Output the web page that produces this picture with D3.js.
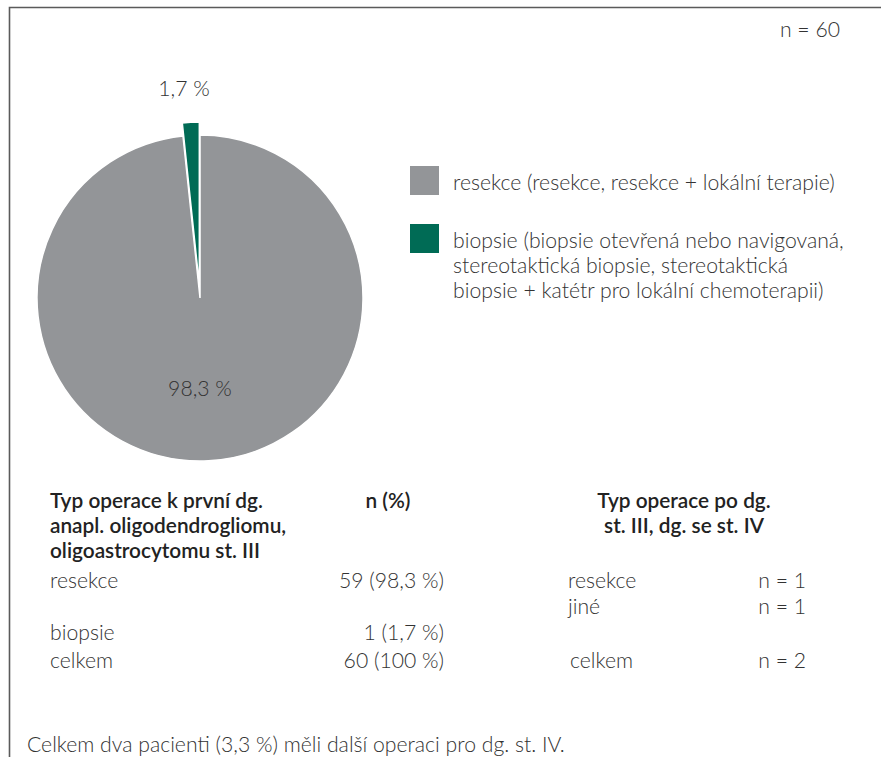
<!DOCTYPE html>
<html>
<head>
<meta charset="utf-8">
<script src="https://cdn.jsdelivr.net/npm/d3@7"></script>
<style>
  html, body { margin: 0; padding: 0; background: #fff; }
  svg { display: block; font-family: Lato, "Open Sans", sans-serif; }
</style>
</head>
<body>
<div id="chart"></div>
<script>
// data
const categories = ['resekce', 'biopsie'];
const counts = [59, 1];
const sliceLabels = ['98,3 %', '1,7 %'];
const legendLabels = [
    ['resekce (resekce, resekce + lokální terapie)'],
    ['biopsie (biopsie otevřená nebo navigovaná,', 'stereotaktická biopsie, stereotaktická', 'biopsie + katétr pro lokální chemoterapii)']
];
const colors = ['#939598', '#006b55'];
const totalLabel = 'n = 60';

const leftHeader = ['Typ operace k první dg.', 'anapl. oligodendrogliomu,', 'oligoastrocytomu st. III'];
const leftRows = ['resekce', 'biopsie', 'celkem'];
const leftValues = ['59 (98,3 %)', '1 (1,7 %)', '60 (100 %)'];
const rightHeader = ['Typ operace po dg.', 'st. III, dg. se st. IV'];
const rightRows = ['resekce', 'jiné', 'celkem'];
const rightValues = ['n = 1', 'n = 1', 'n = 2'];
const footnote = 'Celkem dva pacienti (3,3 %) měli další operaci pro dg. st. IV.';

const W = 881, H = 757;
const textColor = '#333';
const fs = '21.2px';

const svg = d3.select('#chart').append('svg')
    .attr('width', W)
    .attr('height', H);

// Rahmen
svg.append('path')
    .attr('d', `M9.5,${H} L9.5,7.5 L${W},7.5`)
    .attr('fill', 'none')
    .attr('stroke', '#5a5a5a')
    .attr('stroke-width', 1.6);

svg.append('text')
    .attr('x', 840).attr('y', 37)
    .attr('text-anchor', 'end')
    .style('font-size', fs)
    .style('font-weight', 300)
    .style('fill', textColor)
    .text(totalLabel);

// Pie
const cx = 200, cy = 298, r = 163;
const pie = d3.pie().sort(null).value(d => d);
const arcs = pie(counts);
const arc = d3.arc().innerRadius(0).outerRadius(r);
const explode = 13;

const pg = svg.append('g').attr('transform', `translate(${cx},${cy})`);

pg.selectAll('path.slice')
    .data(arcs)
    .join('path')
    .attr('class', 'slice')
    .attr('d', arc)
    .attr('fill', (d, i) => colors[i])
    .attr('stroke', '#fff')
    .attr('stroke-width', 1.5)
    .attr('transform', (d, i) => {
        if (i === 0) return null;
        const a = (d.startAngle + d.endAngle) / 2;
        return `translate(${Math.sin(a) * explode},${-Math.cos(a) * explode})`;
    });

// Slice labels
pg.selectAll('text.slabel')
    .data(arcs)
    .join('text')
    .attr('class', 'slabel')
    .attr('x', (d, i) => i === 0 ? 0 : -16)
    .attr('y', (d, i) => i === 0 ? 98 : -202)
    .attr('text-anchor', 'middle')
    .style('font-size', fs)
    .style('font-weight', 300)
    .style('fill', textColor)
    .text((d, i) => sliceLabels[i]);

// Legend
const legendY = [166, 224];
const lg = svg.append('g').style('font-weight', 300);
categories.forEach((c, i) => {
    lg.append('rect')
        .attr('x', 410).attr('y', legendY[i])
        .attr('width', 29).attr('height', 29)
        .attr('fill', colors[i]);
    legendLabels[i].forEach((line, j) => {
        lg.append('text')
            .attr('x', 453)
            .attr('y', legendY[i] + 24 + j * 25)
            .style('font-size', fs)
            .style('fill', textColor)
            .text(line);
    });
});

// Tabelle links
const tg = svg.append('g').style('fill', textColor).style('font-size', fs).style('font-weight', 300);
leftHeader.forEach((line, j) => {
    tg.append('text')
        .attr('x', 50).attr('y', 508 + j * 25)
        .style('font-size', '20.8px')
        .style('font-weight', '600')
        .style('fill', '#222')
        .text(line);
});
tg.append('text')
    .attr('x', 388).attr('y', 508)
    .attr('text-anchor', 'middle')
    .style('font-size', '20.8px')
    .style('font-weight', '600')
    .style('fill', '#222')
    .text('n (%)');

const leftY = [588, 640, 668];
leftRows.forEach((row, i) => {
    tg.append('text').attr('x', 50).attr('y', leftY[i]).text(row);
    tg.append('text').attr('x', 444).attr('y', leftY[i])
        .attr('text-anchor', 'end').text(leftValues[i]);
});

// Tabelle rechts
rightHeader.forEach((line, j) => {
    tg.append('text')
        .attr('x', 684).attr('y', 508 + j * 25)
        .attr('text-anchor', 'middle')
        .style('font-size', '20.8px')
        .style('font-weight', '600')
        .style('fill', '#222')
        .text(line);
});
const rightY = [588, 614, 668];
const rightX = [568, 568, 570];
rightRows.forEach((row, i) => {
    tg.append('text').attr('x', rightX[i]).attr('y', rightY[i]).text(row);
    tg.append('text').attr('x', 806).attr('y', rightY[i])
        .attr('text-anchor', 'end').text(rightValues[i]);
});

svg.append('text')
    .attr('x', 27).attr('y', 752)
    .style('font-size', fs)
    .style('font-weight', 300)
    .style('fill', textColor)
    .text(footnote);
</script>
</body>
</html>
